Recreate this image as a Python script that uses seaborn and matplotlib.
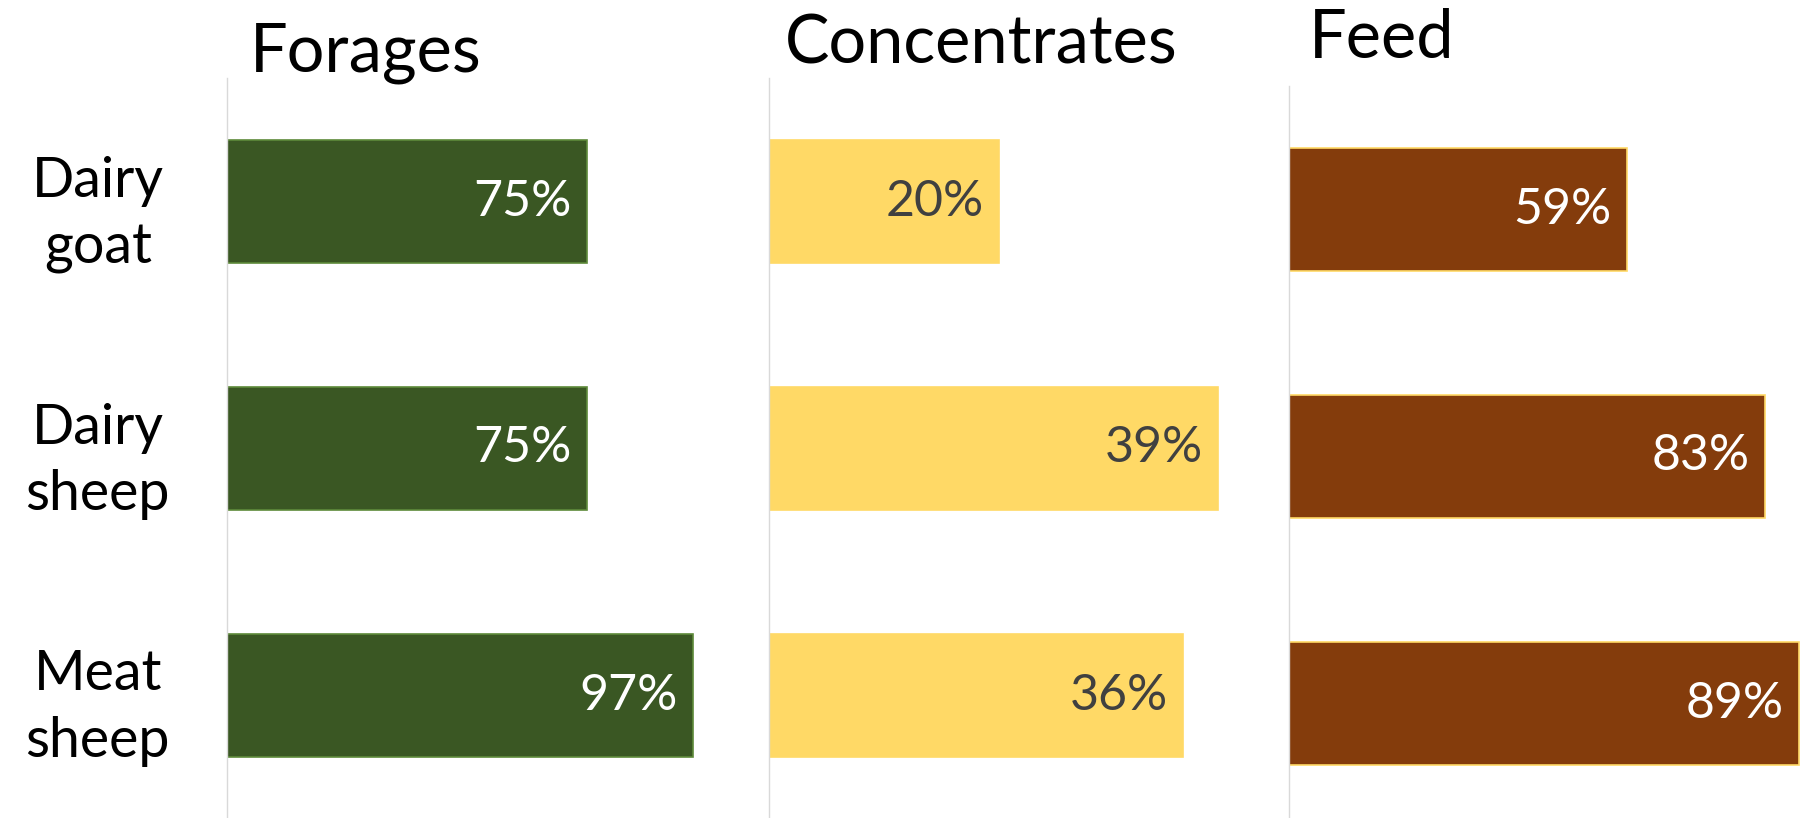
import matplotlib
matplotlib.use("Agg")
import matplotlib.pyplot as plt
import seaborn as sns
import pandas as pd

categories = ["Dairy\ngoat", "Dairy\nsheep", "Meat\nsheep"]
forages = [0.75, 0.75, 0.97]
concentrates = [0.20, 0.39, 0.36]
feed = [0.59, 0.83, 0.89]
panel_titles = ["Forages", "Concentrates", "Feed"]

sns.set_theme(style="white")
plt.rcParams['font.family'] = ['Lato', 'DejaVu Sans']

W, H = 1805, 818
fig = plt.figure(figsize=(W / 100, H / 100), dpi=100)

def px_axes(left, top, width, height):
    return fig.add_axes([left / W, (H - top - height) / H, width / W, height / H])

specs = [
    # values, color, edge, text color, left, top, width, xmax, title x, title baseline
    (forages, "#3A5723", "#5E8A3A", "white", 227, 78, 480, 1.0, 250, 71),
    (concentrates, "#FFD966", "#FFD966", "#404040", 769, 78, 518, 0.45, 785, 63),
    (feed, "#843C0C", "#FFD966", "white", 1289, 86, 516, 0.90, 1309, 58),
]

for i, (vals, col, edge, tcol, left, top, width, xmax, tx, ty) in enumerate(specs):
    ax = px_axes(left, top, width, 741)
    df = pd.DataFrame({"cat": categories, "val": vals})
    sns.barplot(data=df, x="val", y="cat", orient="h", color=col, width=0.5,
                edgecolor=edge, linewidth=1.2, saturation=1, ax=ax)
    ax.set_xlim(0, xmax)
    ax.set_ylim(2.5, -0.5)
    ax.set_xlabel("")
    ax.set_ylabel("")
    ax.set_xticks([])
    for s in ["top", "right", "bottom"]:
        ax.spines[s].set_visible(False)
    ax.spines["left"].set_color("#D9D9D9")
    ax.spines["left"].set_linewidth(1.0)
    ax.patch.set_alpha(0)
    if i == 0:
        ax.tick_params(axis="y", length=0, pad=93, labelsize=40)
        for lab in ax.get_yticklabels():
            lab.set_horizontalalignment("center")
            lab.set_multialignment("center")
            lab.set_color("black")
            lab.set_linespacing(1.38)
    else:
        ax.set_yticks([])
    for j, v in enumerate(vals):
        ax.annotate(f"{round(v * 100)}%", xy=(v, j), xytext=(-11, 0),
                    textcoords="offset points", ha="right", va="center",
                    fontsize=36, color=tcol)
    fig.text(tx / W, 1 - ty / H, panel_titles[i], fontsize=48, color="black",
             ha="left", va="baseline")

fig.savefig("out.png", dpi=100)
